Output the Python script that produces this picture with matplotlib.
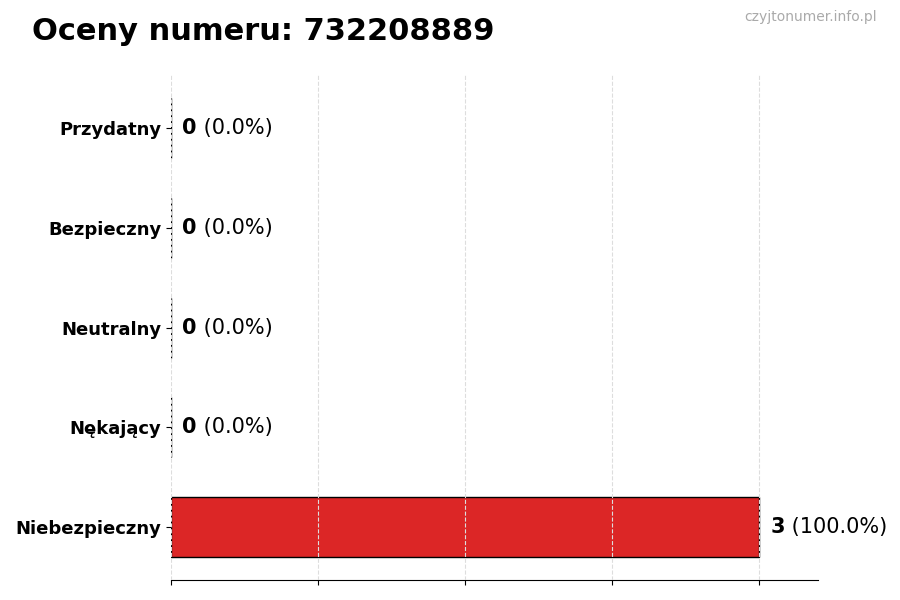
import matplotlib.pyplot as plt

# Ratings for the phone number (top to bottom as shown)
categories = ['Przydatny', 'Bezpieczny', 'Neutralny', 'Nękający', 'Niebezpieczny']
counts = [0, 0, 0, 0, 3]
colors = ['#16a34a', '#22c55e', '#9ca3af', '#f97316', '#dc2626']
number = '732208889'

total = sum(counts)
# plot bottom-up so the first category ends on top
cats = categories[::-1]
vals = counts[::-1]
cols = colors[::-1]

fig, ax = plt.subplots(figsize=(9, 6), dpi=100)
fig.subplots_adjust(left=0.19, right=0.909, top=0.875, bottom=0.033)

ax.barh(cats, vals, height=0.6, color=cols, edgecolor='black', linewidth=1)

ax.set_xlim(0, max(vals) * 1.1)
ax.set_xticks([max(vals) * i / 4 for i in range(5)])
ax.set_xticklabels([])
ax.grid(axis='x', linestyle='--', color='#dddddd', linewidth=0.8)
ax.set_axisbelow(False)

for side in ['top', 'right', 'left']:
    ax.spines[side].set_visible(False)

for lbl in ax.get_yticklabels():
    lbl.set_fontweight('bold')
    lbl.set_fontsize(13)

# value labels: bold count + normal percentage
for i, v in enumerate(vals):
    pct = v / total * 100 if total else 0
    t = ax.annotate(str(v), xy=(v, i), xytext=(8, 0), textcoords='offset points',
                    fontsize=15, fontweight='bold', va='center', ha='left')
    ax.annotate(f' ({pct:.1f}%)', xy=(1, 0), xycoords=t, fontsize=15,
                va='bottom', ha='left')

fig.text(0.036, 0.947, f'Oceny numeru: {number}', fontsize=22, fontweight='bold',
         va='center', ha='left')
fig.text(0.974, 0.971, 'czyjtonumer.info.pl', fontsize=10, color='#aaaaaa',
         va='center', ha='right')

fig.savefig('out.png')
